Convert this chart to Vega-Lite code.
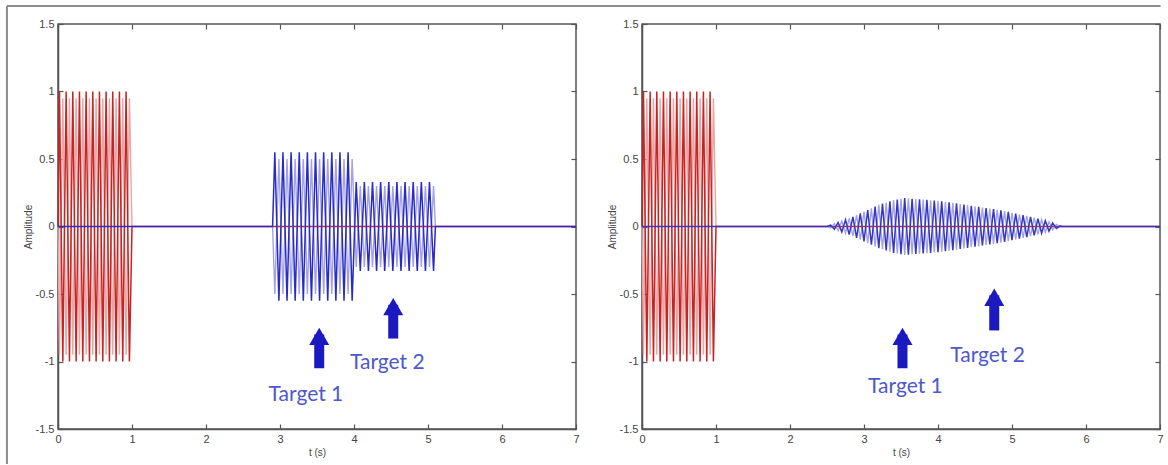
{
  "$schema": "https://vega.github.io/schema/vega-lite/v6.json",
  "padding": {"left": 5, "top": 4, "right": 0, "bottom": 2},
  "spacing": 66,
  "bounds": "flush",
  "config": {
    "view": {"stroke": "#555", "strokeWidth": 1.5},
    "axis": {
      "labelFont": "Liberation Sans", "labelFontSize": 11, "labelColor": "#444",
      "titleFont": "Liberation Sans", "titleFontSize": 10, "titleFontWeight": "normal", "titleColor": "#444",
      "domainColor": "#555", "domainWidth": 1.5, "tickColor": "#555", "tickWidth": 1.2,
      "grid": false, "tickSize": -5, "labelPadding": 9
    }
  },
  "datasets": {
    "red": [{"t":0,"v":0},{"t":0.02,"v":1},{"t":0.065,"v":-1},{"t":0.11,"v":1},{"t":0.155,"v":-1},{"t":0.2,"v":1},{"t":0.245,"v":-1},{"t":0.29,"v":1},{"t":0.335,"v":-1},{"t":0.38,"v":1},{"t":0.425,"v":-1},{"t":0.47,"v":1},{"t":0.515,"v":-1},{"t":0.56,"v":1},{"t":0.605,"v":-1},{"t":0.65,"v":1},{"t":0.695,"v":-1},{"t":0.74,"v":1},{"t":0.785,"v":-1},{"t":0.83,"v":1},{"t":0.875,"v":-1},{"t":0.92,"v":1},{"t":0.965,"v":-1},{"t":1.0,"v":0},{"t":7,"v":0}],
    "red2": [{"t":0,"v":0},{"t":0.02,"v":-0.95},{"t":0.065,"v":0.95},{"t":0.11,"v":-0.95},{"t":0.155,"v":0.95},{"t":0.2,"v":-0.95},{"t":0.245,"v":0.95},{"t":0.29,"v":-0.95},{"t":0.335,"v":0.95},{"t":0.38,"v":-0.95},{"t":0.425,"v":0.95},{"t":0.47,"v":-0.95},{"t":0.515,"v":0.95},{"t":0.56,"v":-0.95},{"t":0.605,"v":0.95},{"t":0.65,"v":-0.95},{"t":0.695,"v":0.95},{"t":0.74,"v":-0.95},{"t":0.785,"v":0.95},{"t":0.83,"v":-0.95},{"t":0.875,"v":0.95},{"t":0.92,"v":-0.95},{"t":0.965,"v":0.95},{"t":1.0,"v":0}],
    "blueL": [{"t":0,"v":0},{"t":2.9,"v":0},{"t":2.93,"v":0.55},{"t":2.985,"v":-0.55},{"t":3.04,"v":0.55},{"t":3.095,"v":-0.55},{"t":3.15,"v":0.55},{"t":3.205,"v":-0.55},{"t":3.26,"v":0.55},{"t":3.315,"v":-0.55},{"t":3.37,"v":0.55},{"t":3.425,"v":-0.55},{"t":3.48,"v":0.55},{"t":3.535,"v":-0.55},{"t":3.59,"v":0.55},{"t":3.645,"v":-0.55},{"t":3.7,"v":0.55},{"t":3.755,"v":-0.55},{"t":3.81,"v":0.55},{"t":3.865,"v":-0.55},{"t":3.92,"v":0.55},{"t":3.975,"v":-0.55},{"t":4.03,"v":0.33},{"t":4.085,"v":-0.33},{"t":4.14,"v":0.33},{"t":4.195,"v":-0.33},{"t":4.25,"v":0.33},{"t":4.305,"v":-0.33},{"t":4.36,"v":0.33},{"t":4.415,"v":-0.33},{"t":4.47,"v":0.33},{"t":4.525,"v":-0.33},{"t":4.58,"v":0.33},{"t":4.635,"v":-0.33},{"t":4.69,"v":0.33},{"t":4.745,"v":-0.33},{"t":4.8,"v":0.33},{"t":4.855,"v":-0.33},{"t":4.91,"v":0.33},{"t":4.965,"v":-0.33},{"t":5.02,"v":0.33},{"t":5.075,"v":-0.33},{"t":5.1,"v":0},{"t":7,"v":0}],
    "blueL2": [{"t":2.9,"v":0},{"t":2.93,"v":-0.5},{"t":2.985,"v":0.5},{"t":3.04,"v":-0.5},{"t":3.095,"v":0.5},{"t":3.15,"v":-0.5},{"t":3.205,"v":0.5},{"t":3.26,"v":-0.5},{"t":3.315,"v":0.5},{"t":3.37,"v":-0.5},{"t":3.425,"v":0.5},{"t":3.48,"v":-0.5},{"t":3.535,"v":0.5},{"t":3.59,"v":-0.5},{"t":3.645,"v":0.5},{"t":3.7,"v":-0.5},{"t":3.755,"v":0.5},{"t":3.81,"v":-0.5},{"t":3.865,"v":0.5},{"t":3.92,"v":-0.5},{"t":3.975,"v":0.5},{"t":4.03,"v":-0.3},{"t":4.085,"v":0.3},{"t":4.14,"v":-0.3},{"t":4.195,"v":0.3},{"t":4.25,"v":-0.3},{"t":4.305,"v":0.3},{"t":4.36,"v":-0.3},{"t":4.415,"v":0.3},{"t":4.47,"v":-0.3},{"t":4.525,"v":0.3},{"t":4.58,"v":-0.3},{"t":4.635,"v":0.3},{"t":4.69,"v":-0.3},{"t":4.745,"v":0.3},{"t":4.8,"v":-0.3},{"t":4.855,"v":0.3},{"t":4.91,"v":-0.3},{"t":4.965,"v":0.3},{"t":5.02,"v":-0.3},{"t":5.075,"v":0.3},{"t":5.1,"v":0}],
    "blueR": [{"t":0,"v":0},{"t":2.5,"v":0},{"t":2.55,"v":0.01},{"t":2.6,"v":-0.02},{"t":2.65,"v":0.03},{"t":2.7,"v":-0.04},{"t":2.75,"v":0.05},{"t":2.8,"v":-0.06},{"t":2.85,"v":0.072},{"t":2.9,"v":-0.085},{"t":2.95,"v":0.097},{"t":3.0,"v":-0.11},{"t":3.05,"v":0.122},{"t":3.1,"v":-0.135},{"t":3.15,"v":0.147},{"t":3.2,"v":-0.16},{"t":3.25,"v":0.169},{"t":3.3,"v":-0.178},{"t":3.35,"v":0.186},{"t":3.4,"v":-0.195},{"t":3.45,"v":0.2},{"t":3.5,"v":-0.205},{"t":3.55,"v":0.21},{"t":3.6,"v":-0.208},{"t":3.65,"v":0.206},{"t":3.7,"v":-0.204},{"t":3.75,"v":0.202},{"t":3.8,"v":-0.2},{"t":3.85,"v":0.198},{"t":3.9,"v":-0.195},{"t":3.95,"v":0.193},{"t":4.0,"v":-0.19},{"t":4.05,"v":0.186},{"t":4.1,"v":-0.182},{"t":4.15,"v":0.179},{"t":4.2,"v":-0.175},{"t":4.25,"v":0.171},{"t":4.3,"v":-0.167},{"t":4.35,"v":0.163},{"t":4.4,"v":-0.158},{"t":4.45,"v":0.154},{"t":4.5,"v":-0.15},{"t":4.55,"v":0.146},{"t":4.6,"v":-0.141},{"t":4.65,"v":0.137},{"t":4.7,"v":-0.133},{"t":4.75,"v":0.129},{"t":4.8,"v":-0.124},{"t":4.85,"v":0.12},{"t":4.9,"v":-0.114},{"t":4.95,"v":0.108},{"t":5.0,"v":-0.102},{"t":5.05,"v":0.096},{"t":5.1,"v":-0.09},{"t":5.15,"v":0.084},{"t":5.2,"v":-0.078},{"t":5.25,"v":0.071},{"t":5.3,"v":-0.065},{"t":5.35,"v":0.058},{"t":5.4,"v":-0.05},{"t":5.45,"v":0.043},{"t":5.5,"v":-0.035},{"t":5.55,"v":0.025},{"t":5.6,"v":-0.015},{"t":5.65,"v":0.005},{"t":5.68,"v":0},{"t":7,"v":0}],
    "blueR2": [{"t":2.5,"v":0},{"t":2.55,"v":-0.01},{"t":2.6,"v":0.02},{"t":2.65,"v":-0.03},{"t":2.7,"v":0.04},{"t":2.75,"v":-0.05},{"t":2.8,"v":0.06},{"t":2.85,"v":-0.072},{"t":2.9,"v":0.085},{"t":2.95,"v":-0.097},{"t":3.0,"v":0.11},{"t":3.05,"v":-0.122},{"t":3.1,"v":0.135},{"t":3.15,"v":-0.147},{"t":3.2,"v":0.16},{"t":3.25,"v":-0.169},{"t":3.3,"v":0.178},{"t":3.35,"v":-0.186},{"t":3.4,"v":0.195},{"t":3.45,"v":-0.2},{"t":3.5,"v":0.205},{"t":3.55,"v":-0.21},{"t":3.6,"v":0.208},{"t":3.65,"v":-0.206},{"t":3.7,"v":0.204},{"t":3.75,"v":-0.202},{"t":3.8,"v":0.2},{"t":3.85,"v":-0.198},{"t":3.9,"v":0.195},{"t":3.95,"v":-0.193},{"t":4.0,"v":0.19},{"t":4.05,"v":-0.186},{"t":4.1,"v":0.182},{"t":4.15,"v":-0.179},{"t":4.2,"v":0.175},{"t":4.25,"v":-0.171},{"t":4.3,"v":0.167},{"t":4.35,"v":-0.163},{"t":4.4,"v":0.158},{"t":4.45,"v":-0.154},{"t":4.5,"v":0.15},{"t":4.55,"v":-0.146},{"t":4.6,"v":0.141},{"t":4.65,"v":-0.137},{"t":4.7,"v":0.133},{"t":4.75,"v":-0.129},{"t":4.8,"v":0.124},{"t":4.85,"v":-0.12},{"t":4.9,"v":0.114},{"t":4.95,"v":-0.108},{"t":5.0,"v":0.102},{"t":5.05,"v":-0.096},{"t":5.1,"v":0.09},{"t":5.15,"v":-0.084},{"t":5.2,"v":0.078},{"t":5.25,"v":-0.071},{"t":5.3,"v":0.065},{"t":5.35,"v":-0.058},{"t":5.4,"v":0.05},{"t":5.45,"v":-0.043},{"t":5.5,"v":0.035},{"t":5.55,"v":-0.025},{"t":5.6,"v":0.015},{"t":5.65,"v":-0.005},{"t":5.68,"v":0}],
    "arrows": [
      {"panel":"L","t":3.53,"bottom":-1.05,"shaft":-0.8,"head":-0.814},
      {"panel":"L","t":4.53,"bottom":-0.83,"shaft":-0.58,"head":-0.594},
      {"panel":"R","t":3.52,"bottom":-1.05,"shaft":-0.8,"head":-0.814},
      {"panel":"R","t":4.76,"bottom":-0.77,"shaft":-0.51,"head":-0.524}
    ],
    "targets": [
      {"panel":"L","t":3.35,"v":-1.25,"label":"Target 1"},
      {"panel":"L","t":4.45,"v":-1.01,"label":"Target 2"},
      {"panel":"R","t":3.56,"v":-1.19,"label":"Target 1"},
      {"panel":"R","t":4.67,"v":-0.96,"label":"Target 2"}
    ],
    "frame": [{"x0": -0.69, "x1": 14.9, "ytop": 1.633, "ybot": -1.76}]
  },
  "hconcat": [
    {
      "width": 518, "height": 405,
      "resolve": {"axis": {"x": "independent", "y": "independent"}},
      "layer": [
        {"data": {"name": "red2"}, "mark": {"type": "line", "color": "#eba5a5", "strokeWidth": 1.4},
         "encoding": {
           "x": {"field": "t", "type": "quantitative", "scale": {"domain": [0, 7], "nice": false, "zero": false}, "axis": {"orient": "bottom", "values": [0,1,2,3,4,5,6,7], "title": "t (s)", "titlePadding": 3, "labelFlush": false}},
           "y": {"field": "v", "type": "quantitative", "scale": {"domain": [-1.5, 1.5], "nice": false, "zero": false}, "axis": {"orient": "left", "values": [-1.5,-1,-0.5,0,0.5,1,1.5], "labelExpr": "'' + datum.value", "title": "Amplitude", "titlePadding": 2}}
         }},
        {"data": {"name": "red"}, "mark": {"type": "line", "color": "#c42626", "strokeWidth": 1.5},
         "encoding": {
           "x": {"field": "t", "type": "quantitative", "scale": {"domain": [0, 7], "nice": false, "zero": false}, "axis": {"orient": "top", "values": [0,1,2,3,4,5,6,7], "labels": false, "title": null, "domain": false}},
           "y": {"field": "v", "type": "quantitative", "scale": {"domain": [-1.5, 1.5], "nice": false, "zero": false}, "axis": {"orient": "right", "values": [-1.5,-1,-0.5,0,0.5,1,1.5], "labels": false, "title": null, "domain": false}}
         }},
        {"data": {"name": "blueL2"}, "mark": {"type": "line", "color": "#a3a3e4", "strokeWidth": 1.4},
         "encoding": {
           "x": {"field": "t", "type": "quantitative", "axis": null},
           "y": {"field": "v", "type": "quantitative", "axis": null}
         }},
        {"data": {"name": "blueL"}, "mark": {"type": "line", "color": "#2a2ac8", "strokeWidth": 1.5},
         "encoding": {
           "x": {"field": "t", "type": "quantitative", "axis": null},
           "y": {"field": "v", "type": "quantitative", "axis": null}
         }},
        {"data": {"name": "arrows"}, "transform": [{"filter": "datum.panel == 'L'"}],
         "mark": {"type": "rule", "color": "#1a1ac0", "strokeWidth": 10},
         "encoding": {
           "x": {"field": "t", "type": "quantitative", "axis": null},
           "y": {"field": "bottom", "type": "quantitative", "axis": null},
           "y2": {"field": "shaft"}
         }},
        {"data": {"name": "arrows"}, "transform": [{"filter": "datum.panel == 'L'"}],
         "mark": {"type": "point", "shape": "triangle-up", "filled": true, "size": 400, "color": "#1a1ac0", "opacity": 1},
         "encoding": {
           "x": {"field": "t", "type": "quantitative", "axis": null},
           "y": {"field": "head", "type": "quantitative", "axis": null}
         }},
        {"data": {"name": "targets"}, "transform": [{"filter": "datum.panel == 'L'"}],
         "mark": {"type": "text", "font": "Lato", "fontSize": 21, "color": "#4d58cc", "align": "center", "baseline": "middle"},
         "encoding": {
           "x": {"field": "t", "type": "quantitative", "axis": null},
           "y": {"field": "v", "type": "quantitative", "axis": null},
           "text": {"field": "label"}
         }},
        {"data": {"name": "frame"}, "mark": {"type": "rule", "color": "#8c8c8c", "strokeWidth": 2},
         "encoding": {
           "x": {"field": "x0", "type": "quantitative", "axis": null},
           "x2": {"field": "x1"},
           "y": {"field": "ytop", "type": "quantitative", "axis": null}
         }},
        {"data": {"name": "frame"}, "mark": {"type": "rule", "color": "#8c8c8c", "strokeWidth": 2},
         "encoding": {
           "x": {"field": "x0", "type": "quantitative", "axis": null},
           "y": {"field": "ytop", "type": "quantitative", "axis": null},
           "y2": {"field": "ybot"}
         }}
      ]
    },
    {
      "width": 518, "height": 405,
      "resolve": {"axis": {"x": "independent", "y": "independent"}},
      "layer": [
        {"data": {"name": "red2"}, "mark": {"type": "line", "color": "#eba5a5", "strokeWidth": 1.4},
         "encoding": {
           "x": {"field": "t", "type": "quantitative", "scale": {"domain": [0, 7], "nice": false, "zero": false}, "axis": {"orient": "bottom", "values": [0,1,2,3,4,5,6,7], "title": "t (s)", "titlePadding": 3, "labelFlush": false}},
           "y": {"field": "v", "type": "quantitative", "scale": {"domain": [-1.5, 1.5], "nice": false, "zero": false}, "axis": {"orient": "left", "values": [-1.5,-1,-0.5,0,0.5,1,1.5], "labelExpr": "'' + datum.value", "title": "Amplitude", "titlePadding": 2}}
         }},
        {"data": {"name": "red"}, "mark": {"type": "line", "color": "#c42626", "strokeWidth": 1.5},
         "encoding": {
           "x": {"field": "t", "type": "quantitative", "scale": {"domain": [0, 7], "nice": false, "zero": false}, "axis": {"orient": "top", "values": [0,1,2,3,4,5,6,7], "labels": false, "title": null, "domain": false}},
           "y": {"field": "v", "type": "quantitative", "scale": {"domain": [-1.5, 1.5], "nice": false, "zero": false}, "axis": {"orient": "right", "values": [-1.5,-1,-0.5,0,0.5,1,1.5], "labels": false, "title": null, "domain": false}}
         }},
        {"data": {"name": "blueR2"}, "mark": {"type": "line", "color": "#a3a3e4", "strokeWidth": 1.4},
         "encoding": {
           "x": {"field": "t", "type": "quantitative", "axis": null},
           "y": {"field": "v", "type": "quantitative", "axis": null}
         }},
        {"data": {"name": "blueR"}, "mark": {"type": "line", "color": "#3535c4", "strokeWidth": 1.5},
         "encoding": {
           "x": {"field": "t", "type": "quantitative", "axis": null},
           "y": {"field": "v", "type": "quantitative", "axis": null}
         }},
        {"data": {"name": "arrows"}, "transform": [{"filter": "datum.panel == 'R'"}],
         "mark": {"type": "rule", "color": "#1a1ac0", "strokeWidth": 10},
         "encoding": {
           "x": {"field": "t", "type": "quantitative", "axis": null},
           "y": {"field": "bottom", "type": "quantitative", "axis": null},
           "y2": {"field": "shaft"}
         }},
        {"data": {"name": "arrows"}, "transform": [{"filter": "datum.panel == 'R'"}],
         "mark": {"type": "point", "shape": "triangle-up", "filled": true, "size": 400, "color": "#1a1ac0", "opacity": 1},
         "encoding": {
           "x": {"field": "t", "type": "quantitative", "axis": null},
           "y": {"field": "head", "type": "quantitative", "axis": null}
         }},
        {"data": {"name": "targets"}, "transform": [{"filter": "datum.panel == 'R'"}],
         "mark": {"type": "text", "font": "Lato", "fontSize": 21, "color": "#4d58cc", "align": "center", "baseline": "middle"},
         "encoding": {
           "x": {"field": "t", "type": "quantitative", "axis": null},
           "y": {"field": "v", "type": "quantitative", "axis": null},
           "text": {"field": "label"}
         }}
      ]
    }
  ]
}
